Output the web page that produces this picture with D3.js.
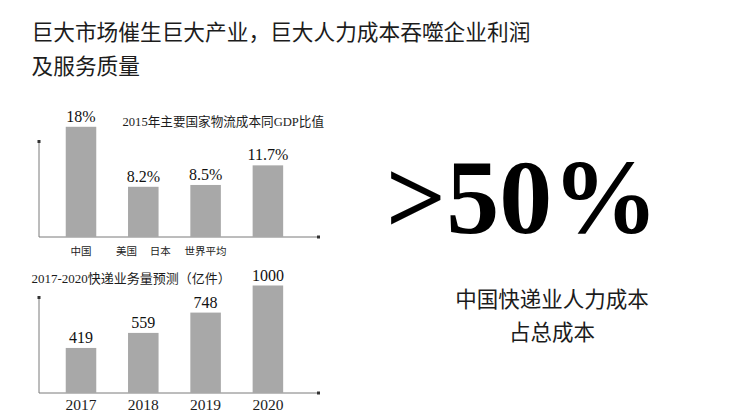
<!DOCTYPE html>
<html><head><meta charset="utf-8">
<script src="https://cdn.jsdelivr.net/npm/d3@7"></script>
<style>
html,body{margin:0;padding:0;background:#fff;}
svg{display:block;}
</style></head>
<body>
<svg id="c" width="740" height="414"></svg>
<script>
// ---- data ----
const headingLines = ["巨大市场催生巨大产业，巨大人力成本吞噬企业利润", "及服务质量"];
const chart1Title = "2015年主要国家物流成本同GDP比值";
const chart1Categories = ["中国", "美国", "日本", "世界平均"];
const chart1Values = [18, 8.2, 8.5, 11.7];
const chart1ValueLabels = ["18%", "8.2%", "8.5%", "11.7%"];
const chart1TickLabels = ["中国", "美国\u3000 日本", "世界平均", ""];
const chart2Title = "2017-2020快递业务量预测（亿件）";
const chart2Categories = ["2017", "2018", "2019", "2020"];
const chart2Values = [419, 559, 748, 1000];
const bigStat = ">50%";
const bigStatCaption = ["中国快递业人力成本", "占总成本"];

// ---- drawing ----
const svg = d3.select("#c");
const SANS = "'Noto Sans CJK SC', 'Noto Sans', sans-serif";
const SERIF = "'Liberation Serif', 'Noto Sans CJK SC', serif";
const barColor = "#a8a8a8";
const axisColor = "#7a7a7a";

// heading
svg.append("g").selectAll("text").data(headingLines).join("text")
  .attr("x", 31.5).attr("y", (d, i) => 40 + i * 33.5)
  .attr("font-family", SANS).attr("font-size", 21.7).attr("fill", "#1c1c1c")
  .text(d => d);

function barChart(cfg) {
  const g = svg.append("g");
  const x = d3.scaleBand().domain(cfg.categories).range([49.85, 299.05])
    .paddingInner(0.51).paddingOuter(0.255);
  const y = d3.scaleLinear().domain(cfg.domain).range([cfg.base, cfg.top]);
  // axes lines
  g.append("line").attr("x1", 39).attr("x2", 39).attr("y1", cfg.axisTop).attr("y2", cfg.base)
    .attr("stroke", axisColor).attr("stroke-width", 1);
  g.append("line").attr("x1", 39).attr("x2", 318).attr("y1", cfg.base).attr("y2", cfg.base)
    .attr("stroke", axisColor).attr("stroke-width", 1);
  g.append("rect").attr("x", 37.5).attr("y", cfg.axisTop - 1).attr("width", 3).attr("height", 3).attr("fill", "#333");
  g.append("rect").attr("x", 317).attr("y", cfg.base - 1.5).attr("width", 3).attr("height", 3).attr("fill", "#333");
  // bars
  g.selectAll("rect.bar").data(cfg.values).join("rect").attr("class", "bar")
    .attr("x", (d, i) => x(cfg.categories[i]))
    .attr("width", x.bandwidth())
    .attr("y", d => y(d))
    .attr("height", d => cfg.base - y(d))
    .attr("fill", barColor);
  // value labels
  g.selectAll("text.val").data(cfg.values).join("text").attr("class", "val")
    .attr("x", (d, i) => x(cfg.categories[i]) + x.bandwidth() / 2)
    .attr("y", d => y(d) - 5)
    .attr("text-anchor", "middle")
    .attr("font-family", SERIF).attr("font-size", 16).attr("fill", "#111")
    .text((d, i) => cfg.valueLabels[i]);
  // tick labels via axis
  const ax = g.append("g").attr("transform", `translate(0,${cfg.base})`)
    .call(d3.axisBottom(x).tickSize(0).tickPadding(0).tickFormat((d, i) => cfg.tickLabels[i]));
  ax.select(".domain").remove();
  ax.selectAll("text").attr("dy", null).attr("y", cfg.tickY)
    .attr("font-family", cfg.tickFont).attr("font-size", cfg.tickSize).attr("fill", "#1c1c1c")
    .style("white-space", "pre");
  // title
  g.append("text").attr("x", cfg.titleX).attr("y", cfg.titleY)
    .attr("font-family", SERIF).attr("font-size", cfg.titleSize).attr("fill", "#1c1c1c")
    .text(cfg.title);
}

barChart({
  categories: chart1Categories, values: chart1Values, valueLabels: chart1ValueLabels,
  tickLabels: chart1TickLabels, domain: [0, 19.6], base: 237, top: 117, axisTop: 141,
  tickY: 18, tickFont: SANS, tickSize: 10.5, title: chart1Title, titleX: 122.5, titleY: 126, titleSize: 12.6
});
barChart({
  categories: chart2Categories, values: chart2Values, valueLabels: chart2Values.map(String),
  tickLabels: chart2Categories, domain: [0, 1000], base: 393, top: 285.5, axisTop: 297,
  tickY: 17, tickFont: SERIF, tickSize: 15.5, title: chart2Title, titleX: 31.5, titleY: 283, titleSize: 13
});

// big stat
svg.append("text").attr("x", 522).attr("y", 233)
  .attr("text-anchor", "middle").attr("font-family", SERIF).attr("font-weight", "bold")
  .attr("font-size", 106).attr("fill", "#000").text(bigStat);
svg.append("g").selectAll("text").data(bigStatCaption).join("text")
  .attr("x", 552).attr("y", (d, i) => 307 + i * 33)
  .attr("text-anchor", "middle").attr("font-family", SANS).attr("font-size", 21.5).attr("fill", "#1c1c1c")
  .text(d => d);
</script>
</body></html>
